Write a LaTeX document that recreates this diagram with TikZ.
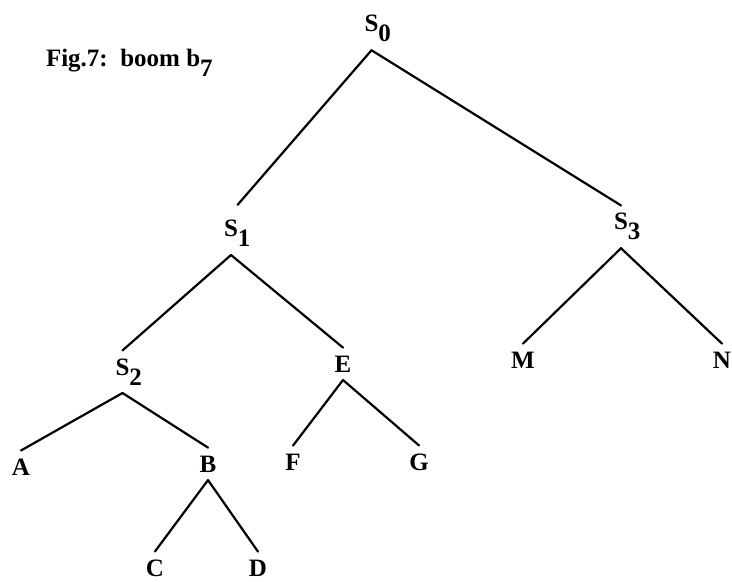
\documentclass[tikz,border=0pt]{standalone}
\usepackage{fontspec}
\setmainfont{Liberation Serif}
\newcommand{\ix}[1]{\rlap{\raisebox{-5pt}{#1}}}
\tikzset{
  vx/.style={anchor=base, inner sep=1pt, outer sep=3pt, font=\fontsize{12.5}{15}\selectfont\bfseries},
  tak/.style={line width=1.1pt, line cap=round, line join=round}
}
\begin{document}
\begin{tikzpicture}[x=0.5pt, y=-0.5pt]
				\useasboundingbox (0,0) rectangle (732,582);
				% Titel
				\node[vx, anchor=base west] (titel) at (38,67) {Fig.7:\ \ boom b\ix{7}};
				
				% Knopen van de boom
				\node[vx] (s0) at (371.5,32) {S\ix{0}};
				\node[vx] (s1) at (231,237) {S\ix{1}};
				\node[vx] (s3) at (621,230) {S\ix{3}};
				\node[vx] (s2) at (122.5,375) {S\ix{2}};
				\node[vx] (e) at (343,372) {E};
				\node[vx] (m) at (523,368) {M};
				\node[vx] (n) at (722,368) {N};
				
				% Bladeren onderaan
				\node[vx] (a) at (21,475) {A};
				\node[vx] (b) at (208,472) {B};
				\node[vx] (f) at (293,470) {F};
				\node[vx] (g) at (419,470) {G};
				\node[vx] (c) at (155,576) {C};
				\node[vx] (d) at (258,576) {D};
				
				% Takken
				\draw[tak, shorten >=5pt] (s0.south) -- (s1.north);
				\draw[tak] (s0.south) -- (s3.north);
				\draw[tak] (s1.south) -- (s2.north);
				\draw[tak] (s1.south) -- (e.north);
				\draw[tak] (s3.south) -- (m.north);
				\draw[tak] (s3.south) -- (n.north);
				\draw[tak] (s2.south) -- (a.north);
				\draw[tak] (s2.south) -- (b.north);
				\draw[tak] (e.south) -- (f.north);
				\draw[tak] (e.south) -- (g.north);
				\draw[tak] (b.south) -- (c.north);
				\draw[tak] (b.south) -- (d.north);
\end{tikzpicture}
\end{document}
